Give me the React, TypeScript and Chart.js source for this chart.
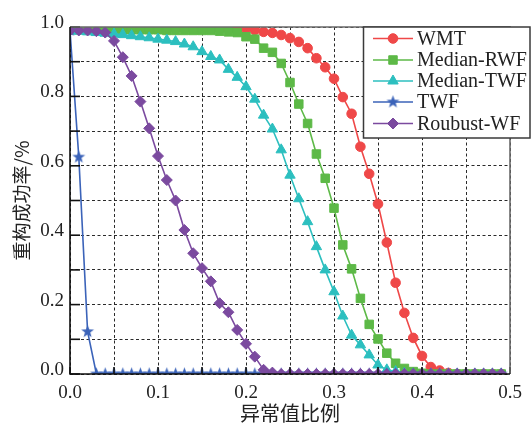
import React, { useEffect, useRef } from 'react';
import { Chart, registerables } from 'chart.js';
import { drawPoint } from 'chart.js/helpers';

Chart.register(...registerables);

// x: outlier ratio
const xValues = [
  0.0, 0.01, 0.02, 0.03, 0.04, 0.05, 0.06, 0.07, 0.08, 0.09,
  0.1, 0.11, 0.12, 0.13, 0.14, 0.15, 0.16, 0.17, 0.18, 0.19,
  0.2, 0.21, 0.22, 0.23, 0.24, 0.25, 0.26, 0.27, 0.28, 0.29,
  0.3, 0.31, 0.32, 0.33, 0.34, 0.35, 0.36, 0.37, 0.38, 0.39,
  0.4, 0.41, 0.42, 0.43, 0.44, 0.45, 0.46, 0.47, 0.48, 0.49,
];

const wmt = [
  0.995, 0.995, 0.995, 0.995, 0.995, 0.995, 0.995, 0.995, 0.995, 0.995,
  0.995, 0.995, 0.995, 0.995, 0.995, 0.995, 0.995, 0.995, 0.995, 0.995,
  0.994, 0.991, 0.986, 0.983, 0.977, 0.968, 0.957, 0.939, 0.91, 0.884,
  0.851, 0.798, 0.75, 0.655, 0.577, 0.49, 0.379, 0.263, 0.176, 0.104,
  0.052, 0.02, 0.01, 0.003, 0, 0, 0, 0, 0, 0,
];

const medianRwf = [
  0.992, 0.992, 0.992, 0.992, 0.992, 0.992, 0.992, 0.992, 0.992, 0.992,
  0.992, 0.99, 0.99, 0.99, 0.99, 0.99, 0.99, 0.988, 0.986, 0.984,
  0.972, 0.965, 0.939, 0.927, 0.895, 0.84, 0.778, 0.722, 0.634, 0.564,
  0.478, 0.372, 0.303, 0.218, 0.143, 0.101, 0.06, 0.031, 0.016, 0.007,
  0.002, 0, 0, 0, 0, 0, 0, 0, 0, 0,
];

const medianTwf = [
  0.99, 0.988, 0.986, 0.984, 0.982, 0.98, 0.978, 0.975, 0.972, 0.969,
  0.965, 0.962, 0.958, 0.951, 0.943, 0.929, 0.915, 0.905, 0.878, 0.855,
  0.828, 0.792, 0.746, 0.706, 0.646, 0.573, 0.505, 0.439, 0.367, 0.3,
  0.237, 0.167, 0.112, 0.084, 0.055, 0.026, 0.012, 0.007, 0.002, 0,
  0, 0, 0, 0, 0, 0, 0, 0, 0, 0,
];

const twf = [
  0.99, 0.625, 0.122, 0, 0, 0, 0, 0, 0, 0,
  0, 0, 0, 0, 0, 0, 0, 0, 0, 0,
  0, 0, 0, 0, 0, 0, 0, 0, 0, 0,
  0, 0, 0, 0, 0, 0, 0, 0, 0, 0,
  0, 0, 0, 0, 0, 0, 0, 0, 0, 0,
];

const roubustWf = [
  0.99, 0.99, 0.99, 0.988, 0.984, 0.96, 0.913, 0.859, 0.785, 0.708,
  0.628, 0.559, 0.5, 0.415, 0.348, 0.305, 0.267, 0.204, 0.178, 0.127,
  0.087, 0.05, 0.012, 0.004, 0, 0, 0, 0, 0, 0,
  0, 0, 0, 0, 0, 0, 0, 0, 0, 0,
  0, 0, 0, 0, 0, 0, 0, 0, 0, 0,
];

const seriesNames = ['WMT', 'Median-RWF', 'Median-TWF', 'TWF', 'Roubust-WF'];
const seriesValues = [wmt, medianRwf, medianTwf, twf, roubustWf];
const seriesColors = ['#ef4848', '#5db947', '#2cbfbf', '#3b63b9', '#7b4a9f'];

const xTitle = '异常值比例';
const yTitle = '重构成功率/%';

const SERIF = '"Liberation Serif", "Times New Roman", serif';
const CJK = '"Noto Sans CJK SC", sans-serif';

function makeStar(color: string) {
  const c = document.createElement('canvas');
  c.width = 15;
  c.height = 15;
  const g = c.getContext('2d')!;
  g.beginPath();
  for (let i = 0; i < 10; i++) {
    const r = i % 2 === 0 ? 6.8 : 2.8;
    const a = -Math.PI / 2 + (i * Math.PI) / 5;
    g.lineTo(7.5 + r * Math.cos(a), 7.5 + r * Math.sin(a));
  }
  g.closePath();
  g.fillStyle = color;
  g.fill();
  return c;
}

export default function App() {
  const ref = useRef<HTMLCanvasElement>(null);

  useEffect(() => {
    const star = makeStar(seriesColors[3]);
    const styles: any[] = ['circle', 'rect', 'triangle', star, 'rectRot'];
    const radii = [4.8, 6, 6, 6, 5.5];

    const datasets = seriesNames.map((name, i) => ({
      label: name,
      data: xValues.map((x, j) => ({ x, y: seriesValues[i][j] })),
      borderColor: seriesColors[i],
      backgroundColor: seriesColors[i],
      pointBackgroundColor: seriesColors[i],
      pointBorderColor: seriesColors[i],
      pointBorderWidth: 1,
      pointStyle: styles[i],
      pointRadius: radii[i],
      borderWidth: 1.6,
      order: 5 - i,
      tension: 0,
      clip: 0,
    }));

    const framePlugin = {
      id: 'frameLegend',
      afterDraw(chart: any) {
        const { ctx, chartArea: a, scales } = chart;
        const xs = scales.x;
        const ys = scales.y;
        ctx.save();
        // inward tick marks
        ctx.strokeStyle = '#111';
        ctx.lineWidth = 1.6;
        ys.ticks.forEach((t: any) => {
          const py = ys.getPixelForValue(t.value);
          ctx.beginPath();
          ctx.moveTo(a.left, py);
          ctx.lineTo(a.left + 10, py);
          ctx.stroke();
        });
        xs.ticks.forEach((t: any) => {
          const px = xs.getPixelForValue(t.value);
          ctx.beginPath();
          ctx.moveTo(px, a.bottom);
          ctx.lineTo(px, a.bottom - 7);
          ctx.stroke();
        });
        // frame
        ctx.lineWidth = 1.6;
        ctx.strokeStyle = '#6a6a6a';
        ctx.beginPath();
        ctx.moveTo(a.left, a.top);
        ctx.lineTo(a.right, a.top);
        ctx.lineTo(a.right, a.bottom);
        ctx.stroke();
        ctx.strokeStyle = '#111';
        ctx.beginPath();
        ctx.moveTo(a.left, a.top);
        ctx.lineTo(a.left, a.bottom);
        ctx.lineTo(a.right, a.bottom);
        ctx.stroke();

        // legend box
        const bx = 363.5;
        const by = a.top;
        const bw = 530 - bx;
        const bh = 138 - by;
        ctx.fillStyle = '#ffffff';
        ctx.fillRect(bx, by, bw, bh);
        ctx.strokeStyle = '#3a3a3a';
        ctx.lineWidth = 1.5;
        ctx.strokeRect(bx, by, bw, bh);
        const rowY = [38.5, 60, 81, 102, 123.5];
        chart.data.datasets.forEach((ds: any, i: number) => {
          const yy = rowY[i];
          ctx.strokeStyle = ds.borderColor;
          ctx.lineWidth = 1.6;
          ctx.beginPath();
          ctx.moveTo(373, yy);
          ctx.lineTo(413, yy);
          ctx.stroke();
          ctx.fillStyle = ds.pointBackgroundColor;
          ctx.strokeStyle = ds.pointBorderColor;
          ctx.lineWidth = 1;
          drawPoint(ctx, { pointStyle: ds.pointStyle, radius: ds.pointRadius, rotation: 0, borderWidth: 1 } as any, 393, yy);
          ctx.fillStyle = '#222';
          ctx.font = `20px ${SERIF}`;
          ctx.textAlign = 'left';
          ctx.textBaseline = 'middle';
          ctx.fillText(ds.label, 417, yy + 1);
        });
        ctx.restore();
      },
    };

    const chart = new Chart(ref.current!, {
      type: 'line',
      data: { datasets: datasets as any },
      options: {
        animation: false,
        responsive: false,
        events: [],
        layout: { padding: { top: 27, right: 21, bottom: 0, left: 0 } },
        plugins: { legend: { display: false }, tooltip: { enabled: false } },
        scales: {
          x: {
            type: 'linear',
            min: 0,
            max: 0.5,
            afterFit(scale: any) {
              scale.height = 52;
            },
            grid: { color: '#2a2a2a', lineWidth: 1, drawTicks: false },
            border: { display: false, dash: [3, 2.5] },
            ticks: {
              stepSize: 0.05,
              autoSkip: false,
              maxRotation: 0,
              padding: 8,
              color: '#222',
              font: { family: SERIF, size: 19 },
              callback: (v: any) => {
                const k = Math.round(Number(v) * 100);
                return k % 10 === 0 ? (k / 100).toFixed(1) : '';
              },
            },
            title: {
              display: true,
              text: xTitle,
              color: '#222',
              font: { family: CJK, size: 20 },
              padding: { top: 0, bottom: 1 },
            },
          },
          y: {
            type: 'linear',
            min: 0,
            max: 1,
            afterFit(scale: any) {
              scale.width = 70;
            },
            grid: { color: '#2a2a2a', lineWidth: 1, drawTicks: false },
            border: { display: false, dash: [3, 2.5] },
            ticks: {
              stepSize: 0.1,
              autoSkip: false,
              padding: 6,
              labelOffset: -4,
              color: '#222',
              font: { family: SERIF, size: 19 },
              callback: (v: any) => {
                const k = Math.round(Number(v) * 10);
                return k % 2 === 0 ? (k / 10).toFixed(1) : '';
              },
            },
            title: {
              display: true,
              text: yTitle,
              color: '#222',
              font: { family: CJK, size: 19 },
              padding: { top: 10.5, bottom: 0 },
            },
          },
        },
      },
      plugins: [framePlugin],
    });
    return () => chart.destroy();
  }, []);

  return (
    <div style={{ position: 'absolute', left: 0, top: 0, width: 531, height: 426, background: '#fff' }}>
      <canvas ref={ref} width={531} height={426} style={{ display: 'block', width: 531, height: 426 }} />
    </div>
  );
}
